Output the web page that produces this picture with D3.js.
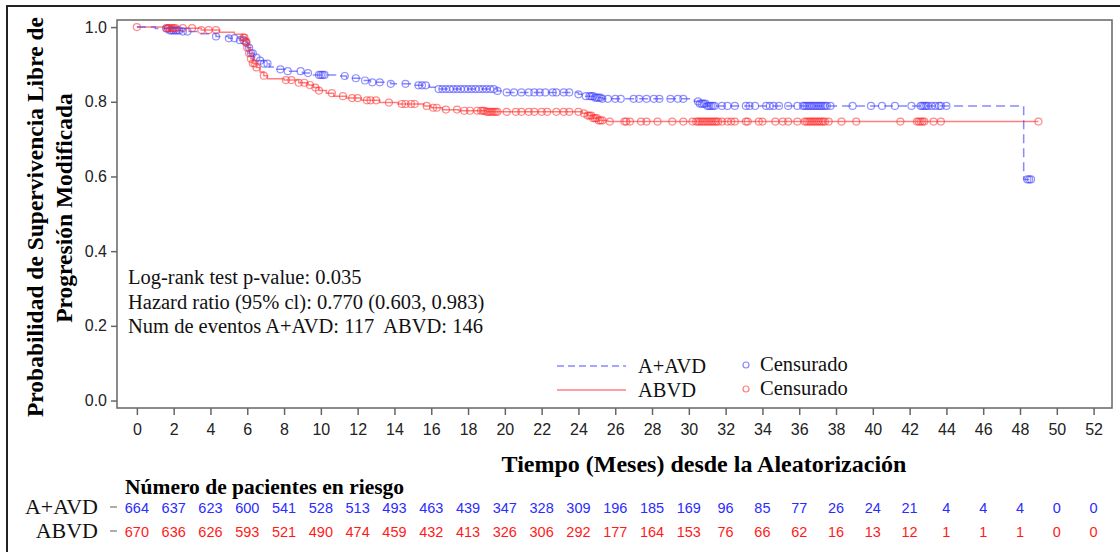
<!DOCTYPE html>
<meta charset="utf-8">
<title>km-pfs</title>
<style>
body { margin: 0; background: #fff; }
</style>
<body>
<script src="https://cdn.jsdelivr.net/npm/d3@7"></script>
<script>
var width = 1120, height = 552;

// step curves: time (months) and survival after each step
var aavdTimes = [0, 1.0, 1.8, 2.5, 3.5, 4.3, 5.0, 5.6, 5.9, 6.05, 6.2, 6.35, 6.6, 6.9, 7.2, 7.6, 8.1, 9.0, 9.6, 10.8, 11.4, 12.2, 12.7, 13.8, 15.0, 15.9, 16.3, 19.6, 19.8, 24.0, 24.4, 24.9, 25.3, 30.3, 30.6, 31.0, 48.2, 48.6];
var aavdSurv  = [1.0, 0.996, 0.991, 0.988, 0.982, 0.975, 0.970, 0.965, 0.958, 0.945, 0.930, 0.918, 0.910, 0.902, 0.893, 0.887, 0.882, 0.877, 0.872, 0.869, 0.863, 0.857, 0.852, 0.848, 0.844, 0.839, 0.834, 0.829, 0.825, 0.820, 0.815, 0.811, 0.808, 0.801, 0.795, 0.789, 0.592, 0.592];
var abvdTimes = [0, 1.5, 3.5, 4.5, 5.3, 5.75, 5.9, 6.0, 6.1, 6.2, 6.3, 6.5, 6.7, 6.9, 7.1, 8.0, 8.8, 9.3, 9.6, 9.9, 10.3, 10.7, 11.4, 12.2, 13.2, 14.2, 15.6, 16.0, 16.6, 17.5, 19.0, 24.2, 24.5, 24.8, 25.1, 25.6, 49.0];
var abvdSurv  = [1.0, 0.997, 0.992, 0.986, 0.981, 0.972, 0.961, 0.945, 0.930, 0.915, 0.903, 0.892, 0.880, 0.870, 0.862, 0.858, 0.851, 0.845, 0.838, 0.830, 0.823, 0.815, 0.810, 0.804, 0.798, 0.794, 0.789, 0.784, 0.779, 0.776, 0.773, 0.769, 0.763, 0.756, 0.750, 0.747, 0.747];

// censored times
var aavdCensor = [1.6, 1.7, 1.8, 1.9, 2.0, 2.1, 2.2, 2.3, 2.5, 2.75, 4.3, 5.0, 5.3, 5.6, 5.8, 5.95, 6.1, 6.2, 6.3, 6.5, 6.7, 6.9, 7.1, 7.8, 8.2, 8.9, 9.3, 9.9, 10.0, 10.1, 10.2, 11.3, 11.9, 12.4, 12.8, 13.2, 13.8, 14.6, 15.3, 15.5, 15.7,
  16.4, 16.6, 16.8, 17.0, 17.2, 17.4, 17.6, 17.8, 18.0, 18.2, 18.4, 18.6, 18.8, 19.0, 19.2, 19.4, 19.6, 20.1, 20.5, 20.9, 21.3, 21.6, 21.9, 22.2, 22.6, 22.8, 23.2, 23.5, 24.0, 24.4,
  24.6, 24.7, 24.8, 24.9, 25.0, 25.1, 25.2, 25.3, 25.6, 26.0, 26.3, 27.0, 27.3, 27.7, 28.1, 28.4, 29.0, 29.4, 29.7, 30.5, 30.6, 30.7, 30.8, 30.9, 31.0, 31.1, 31.2, 31.3, 31.4, 31.8, 32.1, 32.5, 33.1,
  33.3, 33.6, 34.2, 34.4, 34.6, 34.9, 35.4, 35.9, 36.2, 36.3, 36.4, 36.5, 36.6, 36.7, 36.8, 36.9, 37.0, 37.1, 37.2, 37.3, 37.4, 37.5, 37.7, 38.9, 39.9, 40.5, 41.2, 42.1, 42.6, 42.7, 42.8, 42.9, 43.0, 43.2, 43.4, 43.6, 43.7, 44.0, 48.4, 48.5, 48.6];
var abvdCensor = [0, 1.6, 1.7, 1.8, 1.9, 2.0, 2.1, 2.5, 3.0, 3.5, 3.9, 4.3, 5.8, 5.85, 5.9, 5.95, 6.0, 6.1, 6.2, 6.3, 6.4, 6.5, 6.9, 8.1, 8.4, 8.8, 9.1, 9.4, 9.7, 9.9, 10.6, 11.2, 11.7, 12.0, 12.5, 12.7, 13.0, 13.7, 14.4, 14.6, 14.9, 15.1, 15.75, 16.1, 16.3, 16.8,
  17.4, 17.8, 18.1, 18.5, 18.7, 18.8, 18.9, 19.0, 19.1, 19.2, 19.3, 19.4, 19.5, 19.6, 20.1, 20.6, 20.9, 21.3, 21.6, 22.0, 22.3, 22.8, 23.2, 23.5, 24.0, 24.3, 24.5, 24.6, 24.7, 24.8, 24.9, 25.0, 25.1, 25.2, 25.3, 25.7,
  26.5, 26.6, 26.8, 27.4, 27.7, 28.3, 29.1, 29.7, 30.2, 30.4, 30.5, 30.6, 30.7, 30.8, 30.9, 31.0, 31.1, 31.2, 31.3, 31.4, 31.5, 31.6, 31.8, 32.1, 32.3, 32.5, 33.1,
  33.2, 33.8, 34.0, 34.7, 35.1, 35.4, 35.9, 36.3, 36.4, 36.5, 36.6, 36.7, 36.8, 36.9, 37.0, 37.1, 37.2, 37.3, 37.4, 37.6, 38.3, 39.1, 41.5, 42.4, 42.5, 42.6, 42.7, 42.8, 43.3, 43.7, 49.0];

// number at risk
var riskTimes = d3.range(0, 53, 2);
var aavdRisk = [664, 637, 623, 600, 541, 528, 513, 493, 463, 439, 347, 328, 309, 196, 185, 169, 96, 85, 77, 26, 24, 21, 4, 4, 4, 0, 0];
var abvdRisk = [670, 636, 626, 593, 521, 490, 474, 459, 432, 413, 326, 306, 292, 177, 164, 153, 76, 66, 62, 16, 13, 12, 1, 1, 1, 0, 0];
var yTicks = [0, 0.2, 0.4, 0.6, 0.8, 1.0];
var statLines = ["Log-rank test p-value: 0.035", "Hazard ratio (95% cl): 0.770 (0.603, 0.983)", "Num de eventos A+AVD: 117  ABVD: 146"];

var blue = "#3a3aff", red = "#ff2a2a";
var serif = "'Liberation Serif', 'Times New Roman', serif";
var sans = "'Liberation Sans', Arial, sans-serif";

var svg = d3.select("body").append("svg")
    .attr("width", width)
    .attr("height", height);

var x = d3.scaleLinear().domain([-1.08, 53]).range([117, 1112]);
var y = d3.scaleLinear().domain([-0.02, 1.019]).range([408, 20]);

// outer frame
svg.append("rect")
    .attr("x", 7).attr("y", 6).attr("width", 1130).attr("height", 560)
    .attr("fill", "none").attr("stroke", "#222").attr("stroke-width", 2);

// axes
var yAxis = d3.axisLeft(y).tickValues(yTicks).tickFormat(d3.format(".1f")).tickSize(6).tickPadding(4);
var xAxis = d3.axisBottom(x).tickValues(riskTimes).tickFormat(d3.format("d")).tickSize(7).tickPadding(9);

var gy = svg.append("g").attr("transform", "translate(117,0)").call(yAxis);
var gx = svg.append("g").attr("transform", "translate(0,408)").call(xAxis);
[gx, gy].forEach(function(g) {
  g.select(".domain").remove();
  g.selectAll("line").attr("stroke", "#666").attr("stroke-width", 1.5);
  g.selectAll("text").attr("font-family", sans).attr("font-size", 16).attr("fill", "#222");
});

svg.append("rect")
    .attr("x", 117).attr("y", 20).attr("width", 995).attr("height", 388)
    .attr("fill", "none").attr("stroke", "#666").attr("stroke-width", 1.5);

function steps(times, surv) {
  return times.map(function(t, i) { return [t, surv[i]]; });
}
function survAt(times, surv, t) {
  var i = d3.bisectRight(times, t) - 1;
  return surv[Math.max(i, 0)];
}

var line = d3.line()
    .x(function(d) { return x(d[0]); })
    .y(function(d) { return y(d[1]); })
    .curve(d3.curveStepAfter);

svg.append("path")
    .datum(steps(abvdTimes, abvdSurv))
    .attr("d", line)
    .attr("fill", "none").attr("stroke", red).attr("stroke-opacity", 0.6).attr("stroke-width", 1.5);

svg.append("path")
    .datum(steps(aavdTimes, aavdSurv))
    .attr("d", line)
    .attr("fill", "none").attr("stroke", blue).attr("stroke-opacity", 0.6).attr("stroke-width", 1.5)
    .attr("stroke-dasharray", "9,5");

svg.append("g").selectAll("circle")
    .data(aavdCensor)
  .enter().append("circle")
    .attr("cx", function(d) { return x(d); })
    .attr("cy", function(d) { return y(survAt(aavdTimes, aavdSurv, d)); })
    .attr("r", 3.5)
    .attr("fill", "none").attr("stroke", blue).attr("stroke-opacity", 0.55).attr("stroke-width", 1.2);

svg.append("g").selectAll("circle")
    .data(abvdCensor)
  .enter().append("circle")
    .attr("cx", function(d) { return x(d); })
    .attr("cy", function(d) { return y(survAt(abvdTimes, abvdSurv, d)); })
    .attr("r", 3.5)
    .attr("fill", "none").attr("stroke", red).attr("stroke-opacity", 0.55).attr("stroke-width", 1.2);

// stats text
svg.append("g").selectAll("text")
    .data(statLines)
  .enter().append("text")
    .attr("x", 128)
    .attr("y", function(d, i) { return 284 + i * 24.5; })
    .attr("font-family", serif).attr("font-size", 20.5).attr("fill", "#111")
    .style("white-space", "pre")
    .text(function(d) { return d; });

// legend
var legend = svg.append("g");
var legendRows = [
  {name: "A+AVD", color: blue, dash: "7,4", y: 366},
  {name: "ABVD", color: red, dash: null, y: 390}
];
legendRows.forEach(function(r) {
  legend.append("line")
      .attr("x1", 557).attr("x2", 626).attr("y1", r.y).attr("y2", r.y)
      .attr("stroke", r.color).attr("stroke-opacity", 0.6).attr("stroke-width", 1.5)
      .attr("stroke-dasharray", r.dash);
  legend.append("text")
      .attr("x", 638).attr("y", r.y + 7)
      .attr("font-family", serif).attr("font-size", 20.5).attr("fill", "#111")
      .text(r.name);
  legend.append("circle")
      .attr("cx", 746).attr("cy", r.y - 1).attr("r", 3)
      .attr("fill", "none").attr("stroke", r.color).attr("stroke-opacity", 0.6).attr("stroke-width", 1.2);
  legend.append("text")
      .attr("x", 760).attr("y", r.y + 5)
      .attr("font-family", serif).attr("font-size", 20.5).attr("fill", "#111")
      .text("Censurado");
});

// axis titles
svg.append("text")
    .attr("transform", "translate(43,217) rotate(-90)")
    .attr("text-anchor", "middle")
    .attr("font-family", serif).attr("font-size", 23.5).attr("font-weight", "bold")
    .text("Probabilidad de Supervivencia Libre de");
svg.append("text")
    .attr("transform", "translate(72,208) rotate(-90)")
    .attr("text-anchor", "middle")
    .attr("font-family", serif).attr("font-size", 23.5).attr("font-weight", "bold")
    .text("Progresión Modificada");
svg.append("text")
    .attr("x", 704).attr("y", 472)
    .attr("text-anchor", "middle")
    .attr("font-family", serif).attr("font-size", 24).attr("font-weight", "bold")
    .text("Tiempo (Meses) desde la Aleatorización");

// risk table
svg.append("text")
    .attr("x", 125).attr("y", 494)
    .attr("font-family", serif).attr("font-size", 21.5).attr("font-weight", "bold")
    .text("Número de pacientes en riesgo");

var riskRows = [
  {name: "A+AVD", values: aavdRisk, color: "#2b2bff", y: 507},
  {name: "ABVD", values: abvdRisk, color: "#ff1a1a", y: 531}
];
riskRows.forEach(function(r) {
  svg.append("text")
      .attr("x", 98).attr("y", r.y + 7)
      .attr("text-anchor", "end")
      .attr("font-family", serif).attr("font-size", 22).attr("fill", "#111")
      .text(r.name);
  svg.append("line")
      .attr("x1", 110).attr("x2", 117).attr("y1", r.y).attr("y2", r.y)
      .attr("stroke", "#777").attr("stroke-width", 1.2);
  svg.append("g").selectAll("text")
      .data(r.values)
    .enter().append("text")
      .attr("x", function(d, i) { return x(riskTimes[i]); })
      .attr("y", r.y + 5.5)
      .attr("text-anchor", "middle")
      .attr("font-family", sans).attr("font-size", 14.5).attr("fill", r.color)
      .text(function(d) { return d; });
});
</script>
